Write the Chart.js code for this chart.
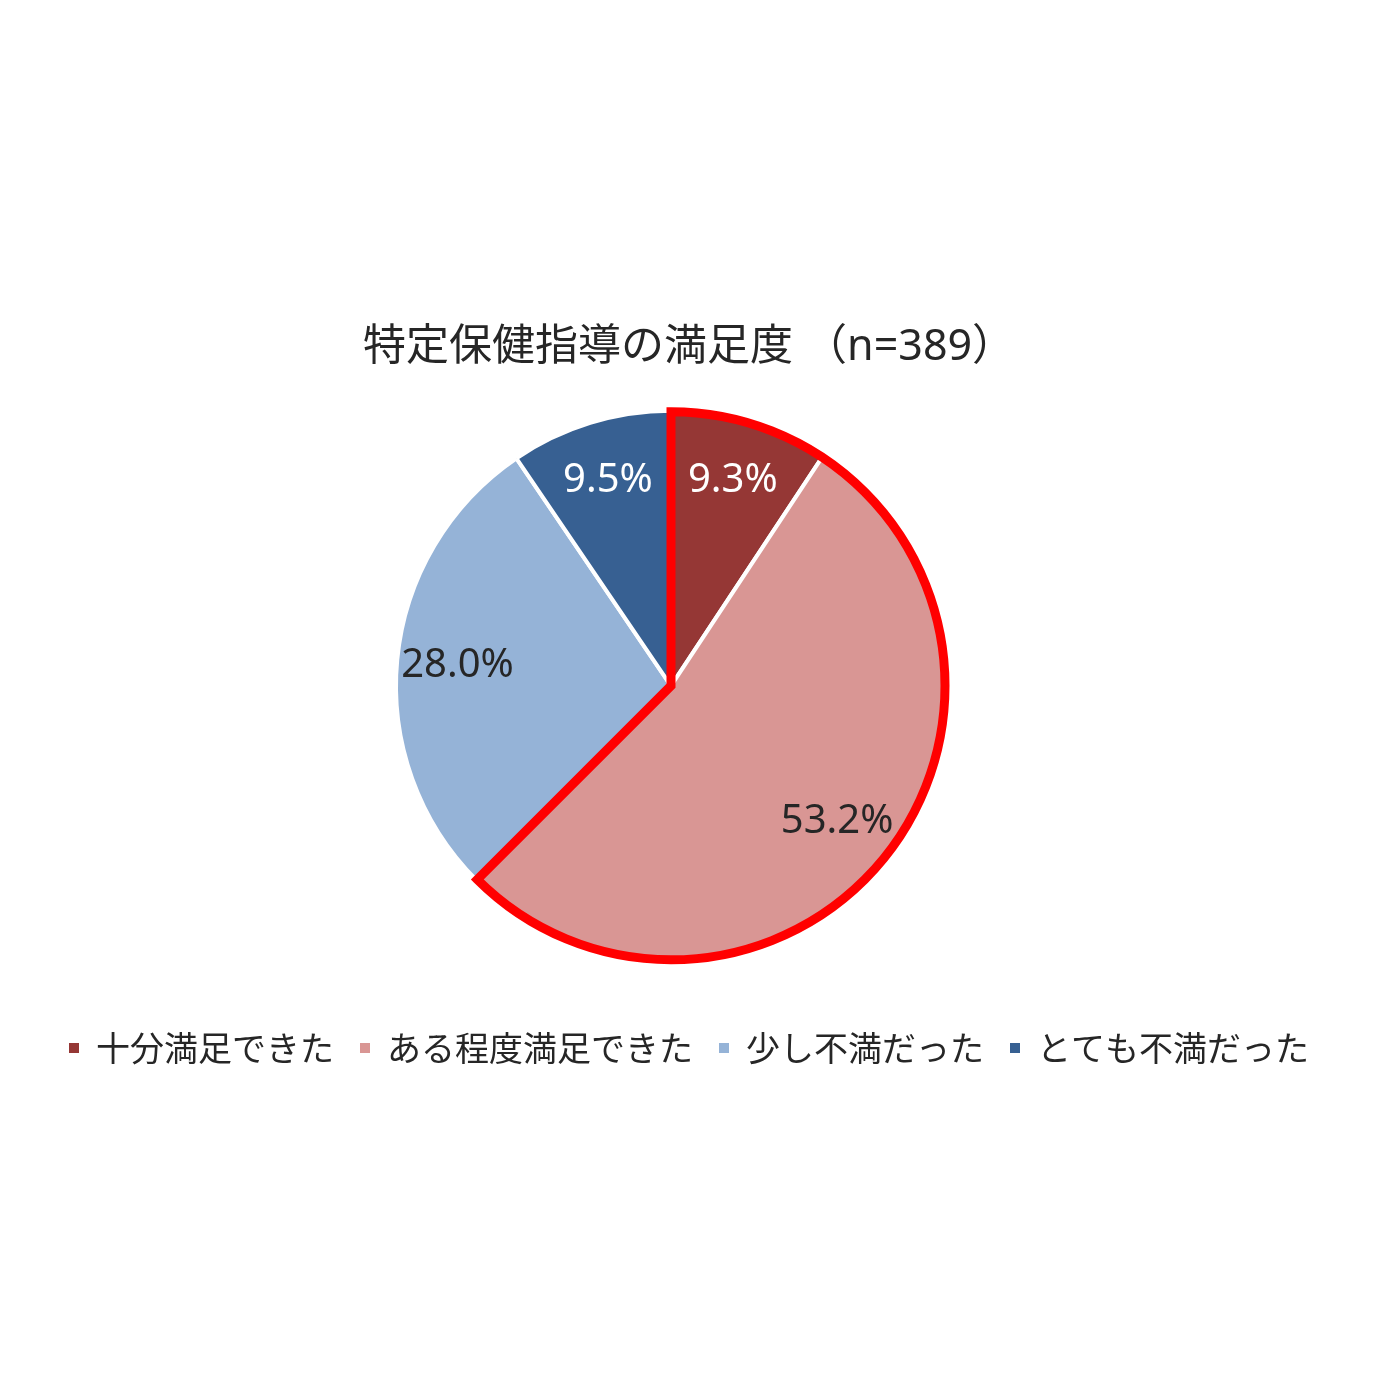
<!DOCTYPE html>
<html>
<head>
<meta charset="utf-8">
<script src="https://cdn.jsdelivr.net/npm/chart.js@4/dist/chart.umd.min.js"></script>
<style>
  html, body { margin: 0; padding: 0; background: #fff; }
  #wrap { width: 1378px; height: 1378px; }
</style>
</head>
<body>
<div id="wrap"><canvas id="pie"></canvas></div>
<script>
// Satisfaction with specific health guidance (n=389)
const categories = ['十分満足できた', 'ある程度満足できた', '少し不満だった', 'とても不満だった'];
const percents = [9.3, 53.2, 28.0, 9.5];
const sliceColors = ['#953735', '#D99694', '#95B3D7', '#376092'];
const labelColors = ['#ffffff', '#262626', '#262626', '#ffffff'];

const FONT = '"Noto Sans", "Noto Sans CJK JP", sans-serif';
const CJK_FONT = '"Noto Sans CJK JP", "Noto Sans", sans-serif';

// move the pie a little left of / above the layout centre, like the original
const shiftPie = {
    id: 'shiftPie',
    afterLayout(chart) {
        const a = chart.chartArea;
        a.left -= 18;
        a.right -= 18;
        a.top -= 4;
        a.bottom -= 4;
    }
};

// red outline round the two "satisfied" slices, then the value labels
const outlineAndLabels = {
    id: 'outlineAndLabels',
    afterDatasetsDraw(chart) {
        const ctx = chart.ctx;
        const arcs = chart.getDatasetMeta(0).data;
        const first = arcs[0].getProps(['x', 'y', 'startAngle', 'outerRadius']);
        const second = arcs[1].getProps(['endAngle']);

        ctx.save();
        ctx.beginPath();
        ctx.moveTo(first.x, first.y);
        ctx.arc(first.x, first.y, first.outerRadius - 1, first.startAngle, second.endAngle);
        ctx.closePath();
        ctx.lineWidth = 9;
        ctx.lineJoin = 'miter';
        ctx.strokeStyle = '#FF0000';
        ctx.stroke();

        ctx.font = '40px ' + FONT;
        ctx.textAlign = 'center';
        ctx.textBaseline = 'middle';
        arcs.forEach((arc, i) => {
            const p = arc.getProps(['x', 'y', 'startAngle', 'endAngle', 'outerRadius']);
            const mid = (p.startAngle + p.endAngle) / 2;
            const r = p.outerRadius * 0.78;
            ctx.fillStyle = labelColors[i];
            ctx.fillText(percents[i].toFixed(1) + '%', p.x + Math.cos(mid) * r, p.y + Math.sin(mid) * r);
        });
        ctx.restore();
    }
};

new Chart(document.getElementById('pie'), {
    type: 'pie',
    data: {
        labels: categories,
        datasets: [{
            data: percents,
            backgroundColor: sliceColors,
            borderColor: '#ffffff',
            borderWidth: 4,
            radius: 275
        }]
    },
    options: {
        responsive: true,
        maintainAspectRatio: false,
        animation: false,
        layout: { padding: { top: 322, bottom: 303, left: 0, right: 0 } },
        plugins: {
            title: {
                display: true,
                text: '特定保健指導の満足度 （n=389）',
                color: '#262626',
                font: { family: FONT, size: 43, weight: 'normal' },
                padding: { top: 0, bottom: 1 }
            },
            legend: {
                position: 'bottom',
                labels: {
                    color: '#262626',
                    font: { family: CJK_FONT, size: 34 },
                    usePointStyle: true,
                    pointStyle: 'rect',
                    boxWidth: 10,
                    boxHeight: 10,
                    padding: 26,
                    generateLabels(chart) {
                        const items = Chart.overrides.pie.plugins.legend.labels.generateLabels(chart);
                        return items.map(it => Object.assign(it, { lineWidth: 0 }));
                    }
                }
            },
            tooltip: { enabled: false }
        }
    },
    plugins: [shiftPie, outlineAndLabels]
});
</script>
</body>
</html>
